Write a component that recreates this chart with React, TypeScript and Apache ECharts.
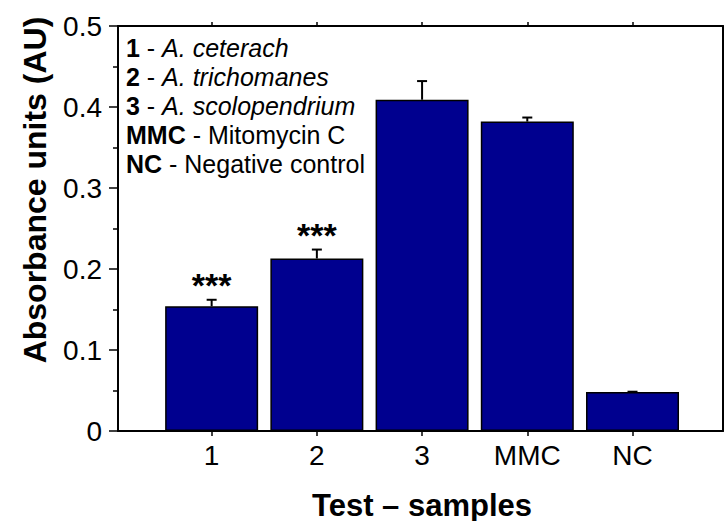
import React, { useEffect, useRef } from "react";
import * as echarts from "echarts";

const categories = ["1", "2", "3", "MMC", "NC"];
const positions = [1, 2, 3, 4, 5];
const values = [0.154, 0.213, 0.409, 0.382, 0.048];
const errors = [0.008, 0.011, 0.023, 0.005, 0.0005];
const significance = ["***", "***", "", "", ""];
const yTicks = { min: 0, max: 0.5, interval: 0.1 };

const FONT = "'Liberation Sans', Arial, Helvetica, sans-serif";
const BAR_COLOR = "#00008f";

const legendLines: [string, string, boolean][] = [
  ["1", "A. ceterach", true],
  ["2", "A. trichomanes", true],
  ["3", "A. scolopendrium", true],
  ["MMC", "Mitomycin C", false],
  ["NC", "Negative control", false],
];

export default function App() {
  const ref = useRef<HTMLDivElement>(null);
  useEffect(() => {
    if (!ref.current) return;
    const chart = echarts.init(ref.current, null, { renderer: "svg" });
    const barData = positions.map((p, i) => [p, values[i]]);
    const errData = positions.map((p, i) => [p, values[i], errors[i], i]);

    const legendGraphics = legendLines.map((l, i) => ({
      type: "text",
      left: 126,
      top: 35 + i * 29,
      style: {
        text: `{b|${l[0]}}{r| - }{${l[2] ? "i" : "r"}|${l[1]}}`,
        rich: {
          b: { fontFamily: FONT, fontSize: 25, fontWeight: "bold", fill: "#000" },
          r: { fontFamily: FONT, fontSize: 25, fill: "#000" },
          i: { fontFamily: FONT, fontSize: 25, fontStyle: "italic", fill: "#000" },
        },
      },
    }));

    chart.setOption({
      animation: false,
      backgroundColor: "#fff",
      grid: { left: 118, top: 26, right: 1, bottom: 90, containLabel: false },
      xAxis: [
        {
          type: "value",
          min: 0.11,
          max: 5.86,
          position: "bottom",
          axisLine: { show: true, onZero: false, lineStyle: { color: "#000", width: 2 } },
          axisTick: { show: true, customValues: positions, length: 5, inside: false, lineStyle: { color: "#000", width: 1.5 } },
          axisLabel: {
            show: true,
            customValues: positions,
            formatter: (v: number) => categories[Math.round(v) - 1] ?? "",
            fontSize: 28,
            fontFamily: FONT,
            color: "#000",
            margin: 10,
          },
          splitLine: { show: false },
        },
        {
          type: "value",
          min: 0.11,
          max: 5.86,
          position: "top",
          axisLine: { show: true, onZero: false, lineStyle: { color: "#000", width: 2 } },
          axisTick: { show: true, customValues: positions, length: 4, inside: false, lineStyle: { color: "#000", width: 1.5 } },
          axisLabel: { show: false },
          splitLine: { show: false },
        },
      ],
      yAxis: [
        {
          type: "value",
          min: yTicks.min,
          max: yTicks.max,
          interval: yTicks.interval,
          position: "left",
          axisLine: { show: true, onZero: false, lineStyle: { color: "#000", width: 2 } },
          axisTick: { show: true, length: 9, inside: false, lineStyle: { color: "#000", width: 1.5 } },
          minorTick: { show: true, splitNumber: 2, length: 5, lineStyle: { color: "#000", width: 1.5 } },
          axisLabel: { fontSize: 28, fontFamily: FONT, color: "#000", margin: 16 },
          splitLine: { show: false },
        },
        {
          type: "value",
          min: yTicks.min,
          max: yTicks.max,
          position: "right",
          axisLine: { show: true, onZero: false, lineStyle: { color: "#000", width: 2 } },
          axisTick: { show: false },
          axisLabel: { show: false },
          splitLine: { show: false },
        },
      ],
      series: [
        {
          type: "bar",
          data: barData,
          barWidth: 93,
          itemStyle: { color: BAR_COLOR, borderColor: "#000", borderWidth: 1.5 },
          z: 2,
        },
        {
          type: "custom",
          data: errData,
          z: 3,
          renderItem: (params: any, api: any) => {
            const x = api.value(0);
            const y = api.value(1);
            const e = api.value(2);
            const idx = api.value(3);
            const p0 = api.coord([x, y]);
            const p1 = api.coord([x, y + e]);
            const children: any[] = [
              {
                type: "line",
                shape: { x1: p0[0], y1: p0[1], x2: p1[0], y2: p1[1] },
                style: { stroke: "#000", lineWidth: 2 },
              },
              {
                type: "line",
                shape: { x1: p1[0] - 5, y1: p1[1], x2: p1[0] + 5, y2: p1[1] },
                style: { stroke: "#000", lineWidth: 2 },
              },
            ];
            const star = significance[idx];
            if (star) {
              children.push({
                type: "text",
                x: p1[0],
                y: p1[1] + 2,
                style: {
                  text: star,
                  fontFamily: FONT,
                  fontSize: 34,
                  fontWeight: "bold",
                  fill: "#000",
                  align: "center",
                  verticalAlign: "bottom",
                },
              });
            }
            return { type: "group", children };
          },
        },
      ],
      graphic: [
        ...legendGraphics,
        {
          type: "text",
          x: 35,
          y: 190,
          rotation: Math.PI / 2,
          style: {
            text: "Absorbance units (AU)",
            fontFamily: FONT,
            fontSize: 32,
            fontWeight: "bold",
            fill: "#000",
            align: "center",
            verticalAlign: "middle",
          },
        },
        {
          type: "text",
          x: 422,
          y: 505,
          style: {
            text: "Test – samples",
            fontFamily: FONT,
            fontSize: 31,
            fontWeight: "bold",
            fill: "#000",
            align: "center",
            verticalAlign: "middle",
          },
        },
      ],
    });
    return () => chart.dispose();
  }, []);
  return <div ref={ref} style={{ width: 724, height: 521, position: "absolute", left: 0, top: 0 }} />;
}
